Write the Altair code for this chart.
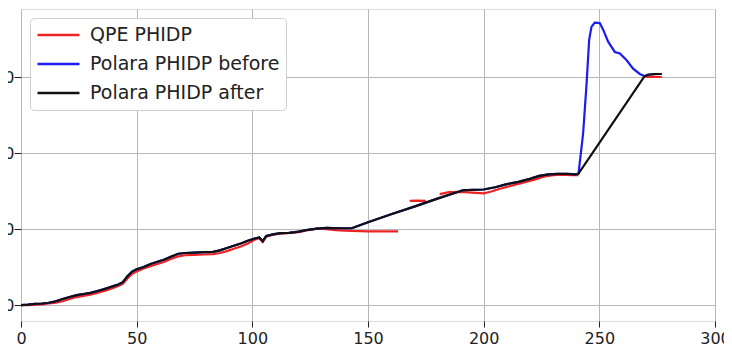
import altair as alt
import pandas as pd

series_names = ["QPE PHIDP", "Polara PHIDP before", "Polara PHIDP after"]
series_colors = ["#ee2222", "#1c1cf0", "#111111"]

x_ticks = [0, 50, 100, 150, 200, 250, 300]
y_ticks = [0, 100, 200, 300]

# QPE PHIDP (red), broken into segments
qpe_x = [0, 3, 6, 9, 12, 15, 18, 21, 24, 27, 30, 33, 36, 39, 42, 44, 46, 48, 50, 53,
         56, 59, 62, 65, 68, 71, 75, 79, 83, 86, 89, 92, 95, 98, 101, 103, 104.5, 106, 109, 112,
         116, 120, 124, 128, 132, 136, 140, 143, 150, 157, 163,
         168, 171, 175,
         181, 185, 190, 195, 200, 203, 207, 212, 217, 222, 226, 230, 234, 238, 241,
         270, 273, 277]
qpe_y = [0, 0, 0.5, 1, 2, 3, 5, 8, 10.5, 12, 13.5, 16, 18.5, 21.5, 25, 28, 35, 41, 44, 48,
         51, 54, 57, 61, 64, 65.5, 66, 66.5, 67, 68.5, 71, 74, 77, 81, 86, 88, 83, 90, 92.5, 94,
         95, 96, 98.5, 100.5, 100, 98.5, 98, 97.5, 97, 97, 97,
         137, 137.5, 137,
         146, 148.5, 149, 148, 147, 149, 153, 157, 161, 165, 169, 171, 171.5, 171, 171,
         300, 300.5, 300]
qpe_seg = [1] * 51 + [2] * 3 + [3] * 15 + [4] * 3

# Polara PHIDP after (black)
after_x = [0, 3, 6, 9, 12, 15, 18, 21, 24, 27, 30, 33, 36, 39, 42, 44, 46, 48, 50, 53,
           56, 59, 62, 65, 68, 71, 75, 79, 83, 86, 89, 92, 95, 98, 101, 103, 104.5, 106, 109, 112,
           116, 120, 124, 128, 132, 138, 143, 150, 160, 170, 180, 191, 195, 200, 205, 210,
           215, 220, 224, 228, 232, 236, 240, 241, 269.5, 271, 274, 277]
after_y = [0, 0.5, 1.5, 2, 3, 5, 8, 10.5, 13, 14.5, 16, 18.5, 21, 24, 27, 30, 38, 44, 47, 50,
           54, 57, 60, 64, 67.5, 68.5, 69, 69.5, 70, 72, 75, 78, 81, 84.5, 87.5, 89, 84, 91, 93, 94.5,
           95, 96.5, 99, 100.5, 101.5, 101, 101, 109, 119.5, 129.5, 140, 151, 151.5, 152, 155, 159,
           162, 166, 170, 172, 172.5, 172.5, 172, 173, 301, 303, 304, 304]

# Polara PHIDP before (blue): same as "after" up to 241, then the spike
spike_x = [243, 244.5, 245.6, 246.6, 248, 250.2, 251.7, 253.8, 256.7, 258.9, 261.8,
           264.6, 267.5, 269.7, 271, 274, 277]
spike_y = [226, 292, 349, 366, 371.5, 371, 362, 346.5, 333, 331, 322,
           311, 304, 301, 303, 304, 304]

rows = []
for x, y, s in zip(qpe_x, qpe_y, qpe_seg):
    rows.append({"x": x, "y": y, "series": series_names[0], "seg": s})
before_x = after_x[:64] + spike_x
before_y = after_y[:64] + spike_y
for x, y in zip(before_x, before_y):
    rows.append({"x": x, "y": y, "series": series_names[1], "seg": 1})
for x, y in zip(after_x, after_y):
    rows.append({"x": x, "y": y, "series": series_names[2], "seg": 1})
df = pd.DataFrame(rows)

FONT = "DejaVu Sans"

color = alt.Color(
    "series:N",
    scale=alt.Scale(domain=series_names, range=series_colors),
    legend=alt.Legend(
        orient="none", legendX=9, legendY=9, title=None,
        symbolType="stroke", symbolSize=1764, symbolStrokeWidth=2.5,
        clipHeight=22,
        labelFont=FONT, labelFontSize=19, labelColor="#222222",
        labelOffset=9, rowPadding=7, padding=6, labelLimit=400,
        fillColor="white", strokeColor="#d0d0d0", cornerRadius=4,
    ),
)

xenc = alt.X(
    "x:Q", scale=alt.Scale(domain=[0, 300], nice=False, zero=False),
    axis=alt.Axis(values=x_ticks, title=None, labelFont=FONT, labelFontSize=16,
                  labelColor="#222222", tickColor="#222222", tickSize=6,
                  labelPadding=3, domain=False, grid=True, gridColor="#b8b8b8",
                  gridWidth=1, labelFlush=False),
)
yenc = alt.Y(
    "y:Q", scale=alt.Scale(domain=[-21, 389.5], nice=False, zero=False),
    axis=alt.Axis(values=y_ticks, title=None, labelFont=FONT, labelFontSize=16,
                  labelColor="#222222", tickColor="#222222", tickSize=7,
                  labelPadding=0, domain=False, grid=True, gridColor="#b8b8b8",
                  gridWidth=1),
)

base = alt.Chart(df)
layers = []
for name in series_names:
    layers.append(
        base.transform_filter(alt.datum.series == name)
        .mark_line(strokeWidth=2.2, clip=True)
        .encode(x=xenc, y=yenc, color=color, detail="seg:N", order="x:Q")
    )

chart = (
    alt.layer(*layers)
    .properties(
        width=694, height=312,
        autosize=alt.AutoSizeParams(type="none"),
        padding={"left": 13, "top": 1, "right": 9, "bottom": 27},
    )
    .configure_view(stroke="#222222", strokeWidth=1.5)
    .configure(background="white")
)

chart.save("out.html", embed_options={"renderer": "svg", "actions": False})
